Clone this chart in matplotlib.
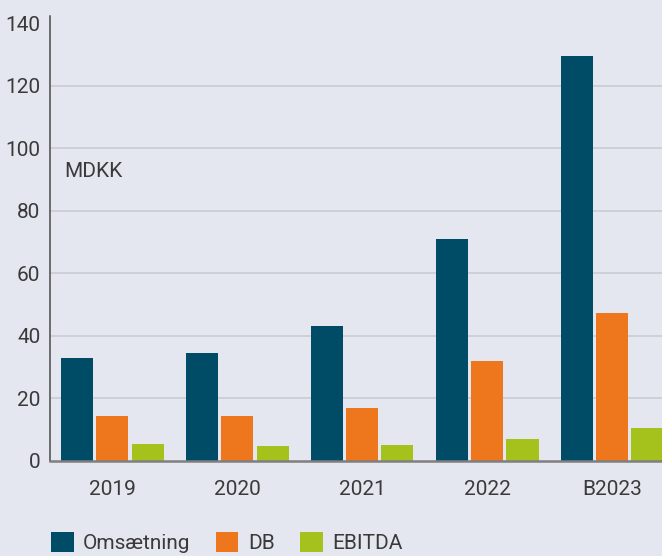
import numpy as np
import matplotlib.pyplot as plt
from matplotlib.patches import Patch

# data (MDKK)
years = ["2019", "2020", "2021", "2022", "B2023"]
omsaetning = [33.0, 34.6, 43.2, 71.0, 129.6]
db = [14.4, 14.4, 17.0, 32.0, 47.4]
ebitda = [5.4, 4.8, 5.1, 7.0, 10.6]
series_names = ["Omsætning", "DB", "EBITDA"]
colors = ["#004b66", "#ee761c", "#a5c11b"]
yticks = [0, 20, 40, 60, 80, 100, 120, 140]

bg = "#e4e7ef"
txt = "#3a3a3a"
plt.rcParams['font.family'] = ['Roboto', 'DejaVu Sans']

fig = plt.figure(figsize=(6.62, 5.56), dpi=100, facecolor=bg)
ax = fig.add_axes([50 / 662, 95 / 556, 612 / 662, 445.4 / 556])
ax.set_facecolor(bg)

x = np.arange(len(years))
width = 0.256
pitch = 0.284
for i, vals in enumerate([omsaetning, db, ebitda]):
    ax.bar(x + (i - 1) * pitch, vals, width, color=colors[i], zorder=3)

# gridlines (no line at the very top)
for v in yticks[1:-1]:
    ax.axhline(v, color="#c8cace", lw=1.1, zorder=1)

ax.set_xlim(-0.496, 4.4)
ax.set_ylim(0, 142.5)
ax.set_yticks(yticks)
ax.set_xticks(x)
ax.set_xticklabels(years)
ax.tick_params(axis='both', length=0, labelsize=15, colors=txt)
ax.tick_params(axis='y', pad=7)
ax.tick_params(axis='x', pad=14)

for s in ["top", "right"]:
    ax.spines[s].set_visible(False)
ax.spines["left"].set_color("#4a4a4a")
ax.spines["left"].set_linewidth(1.1)
ax.spines["bottom"].set_color("#7f7f7f")
ax.spines["bottom"].set_linewidth(1.8)
ax.spines["bottom"].set_zorder(4)

ax.text(0.023, 0.651, "MDKK", transform=ax.transAxes, fontsize=15,
        color=txt, va="center", ha="left")

handles = [Patch(facecolor=c, edgecolor="none") for c in colors]
fig.legend(handles, series_names, loc="upper left",
           bbox_to_anchor=(32 / 662, 1 - 513 / 556), ncol=3, frameon=False,
           fontsize=15, handlelength=1.1, handleheight=1.1,
           handletextpad=0.45, columnspacing=1.2, labelcolor=txt)

fig.savefig("out.png", dpi=100, facecolor=bg)
